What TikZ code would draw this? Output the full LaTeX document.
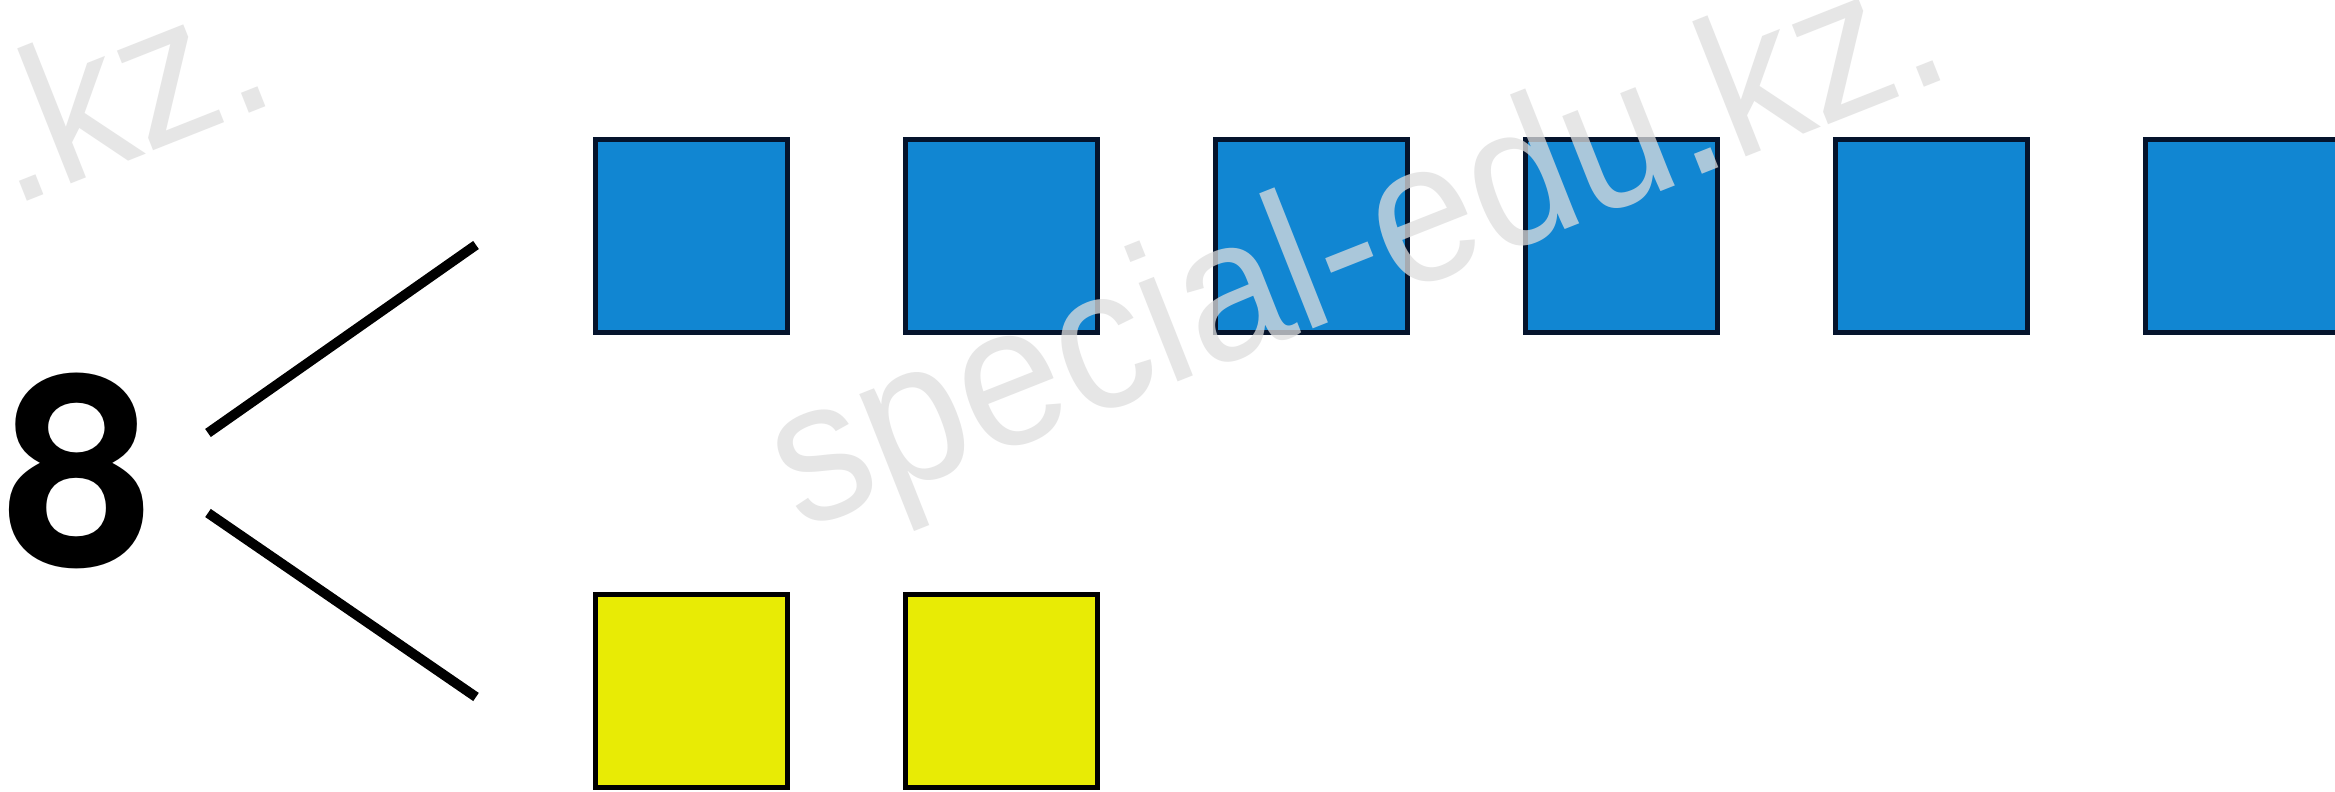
\documentclass[tikz,border=0pt]{standalone}
\usepackage{fontspec}
\setmainfont{Liberation Sans}
\newfontfamily\eightfont{TeX Gyre Heros}
\definecolor{sqblue}{RGB}{17,134,210}
\definecolor{sqyellow}{RGB}{232,235,5}
\definecolor{blueedge}{RGB}{5,20,45}
\definecolor{wm}{RGB}{222,222,222}
\begin{document}
\begin{tikzpicture}[x=0.01cm,y=-0.01cm,
  sq/.style={line width=1.5pt, minimum width=1.92cm, minimum height=1.93cm, inner sep=0pt, outer sep=0pt},
  bluesq/.style={sq, fill=sqblue, draw=blueedge},
  yellowsq/.style={sq, fill=sqyellow, draw=black},
  branch/.style={line width=2.8pt, draw=black},
  wmark/.style={text=wm, opacity=0.75, font=\fontsize{57}{57}\selectfont, rotate=21.6, inner sep=0pt}]
\clip (0,0) rectangle (2335,792);
\fill[white] (0,0) rectangle (2335,792);
% number
\node[inner sep=0pt, font=\eightfont\bfseries\fontsize{76}{76}\selectfont] (n8) at (78,471) {8};
% branch ends
\coordinate (u0) at (208,433);
\coordinate (u1) at (476,245);
\coordinate (l0) at (208,513);
\coordinate (l1) at (476,697);
\draw[branch] (u0) -- (u1);
\draw[branch] (l0) -- (l1);
% blue squares
\foreach \i in {1,...,6} {
  \node[bluesq] (b\i) at ({691.5+310*(\i-1)},236) {};
}
% yellow squares
\node[yellowsq] (y1) at (691.5,691) {};
\node[yellowsq] (y2) at (1001.5,691) {};
% watermarks
\node[wmark, anchor=base west] (wm1) at (800,532) {\scalebox{0.93}[1]{special-edu.kz.}};
\node[wmark, anchor=base east] (wm2) at (282,100) {\scalebox{0.93}[1]{special-edu.kz.}};
\end{tikzpicture}
\end{document}
